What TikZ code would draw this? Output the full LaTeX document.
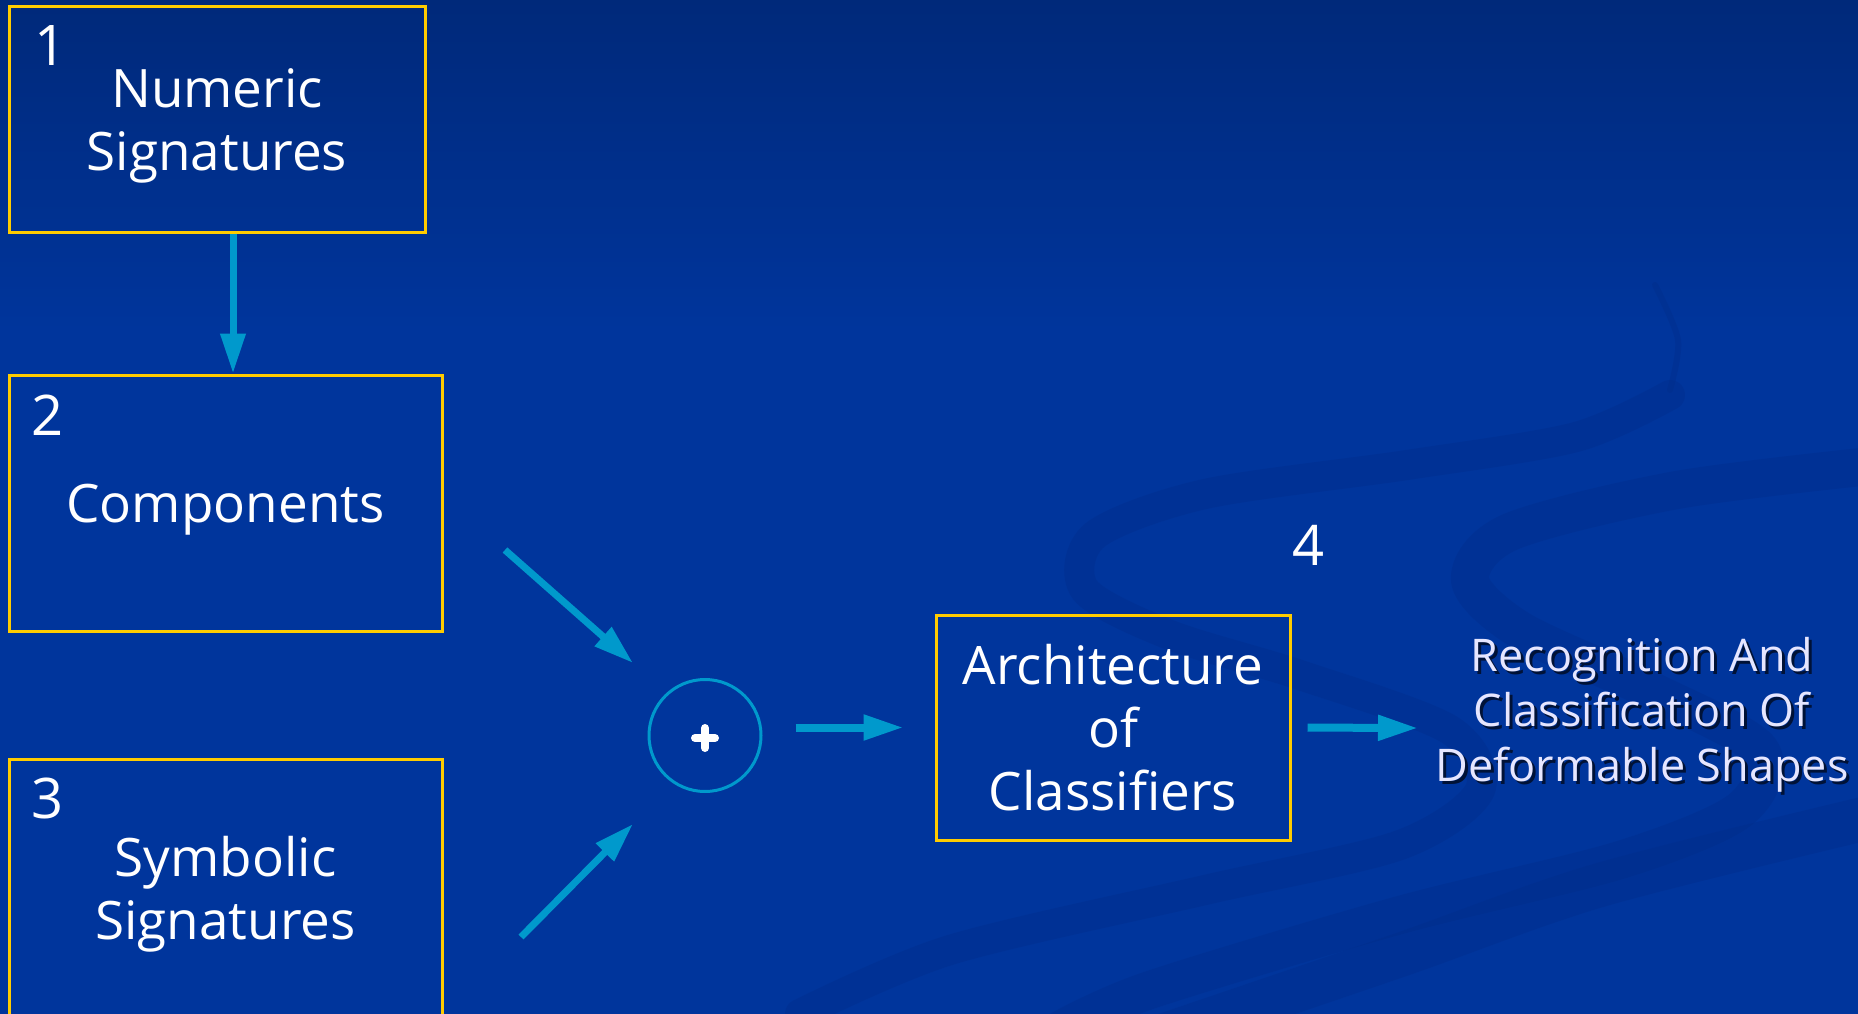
\documentclass[tikz,border=0pt]{standalone}
\usepackage{fontspec}
\setmainfont{Open Sans}
\usetikzlibrary{arrows.meta,positioning}

\definecolor{slidetop}{HTML}{00297A}
\definecolor{slideblue}{HTML}{00359C}
\definecolor{swoosh}{HTML}{002C88}
\definecolor{frame}{HTML}{FFCC00}
\definecolor{link}{HTML}{0099CC}
\definecolor{pale}{HTML}{E6E6FF}

\tikzset{
  stagebox/.style={draw=frame,line width=3pt,inner sep=0pt,text=white,align=center,text depth=0pt,
    font=\fontsize{53}{63}\selectfont},
  numlabel/.style={text=white,inner sep=0pt,anchor=north west,font=\fontsize{56}{56}\selectfont},
  outcome/.style={align=center,inner sep=0pt,text depth=0pt,font=\fontsize{45}{55}\selectfont},
  flow/.style={draw=link,line width=7pt,-{Triangle[length=40pt,width=24pt]}},
  band/.style={draw=swoosh,line width=30pt,opacity=0.35,line cap=round},
}

\begin{document}
\begin{tikzpicture}[x=1pt,y=-1pt]
\useasboundingbox (0,0) rectangle (1858,1014);

% background
\shade[top color=slidetop,bottom color=slideblue] (0,0) rectangle (1858,330);
\fill[slideblue] (0,329) rectangle (1858,1014);
\begin{scope}
  \clip (0,0) rectangle (1858,1014);
  \draw[band,line width=6pt] plot[smooth] coordinates {(1655,285) (1678,340) (1670,390)};
  \draw[band] plot[smooth] coordinates {(1670,395) (1576,437) (1407,465) (1205,494) (1095,535)
    (1085,590) (1170,635) (1300,675) (1450,730) (1480,790) (1400,845) (1205,890) (950,950) (800,1014)};
  \draw[band,line width=38pt] plot[smooth] coordinates {(1880,465) (1677,490) (1510,532) (1470,580) (1520,630)
    (1650,690) (1760,750) (1740,810) (1620,860) (1400,915) (1150,990) (1060,1030)};
  \draw[band,line width=44pt] plot[smooth] coordinates {(1880,815) (1600,885) (1400,955) (1150,1040)};
\end{scope}

% stages
\node[stagebox,minimum width=416pt,minimum height=225pt] (sig1) at (217,119.5) {Numeric\\Signatures};
\node[stagebox,minimum width=433pt,minimum height=256pt] (comp) at (225.5,503) {Components};
\node[stagebox,minimum width=433pt,minimum height=258pt] (sig3) at (225.5,888) {Symbolic\\Signatures};
\node[stagebox,minimum width=354pt,minimum height=225pt] (arch) at (1113,727.5) {Architecture\\of\\Classifiers};

\node[numlabel] (n1) at ([xshift=27pt,yshift=-20pt]sig1.north west) {1};
\node[numlabel] (n2) at ([xshift=24pt,yshift=-21pt]comp.north west) {2};
\node[numlabel] (n3) at ([xshift=24pt,yshift=-20pt]sig3.north west) {3};
\node[numlabel,anchor=center] (n4) at (1308,545) {4};

% sum
\node[circle,draw=link,line width=3pt,minimum size=112pt,inner sep=0pt] (sum) at (705,735.5) {};
\draw[white,line width=8pt,line cap=round] ([xshift=-10pt,yshift=-2.5pt]sum.center) -- ([xshift=10pt,yshift=-2.5pt]sum.center);
\draw[white,line width=8pt,line cap=round] ([yshift=7.5pt]sum.center) -- ([yshift=-12.5pt]sum.center);

% result
\node[outcome,text=black!55!slidetop] (resshadow) at (1645,712) {Recognition And\\Classification Of\\Deformable Shapes};
\node[outcome,text=pale] (res) at (1642,709) {Recognition And\\Classification Of\\Deformable Shapes};

% connectors
\coordinate (c2) at (505,550);
\coordinate (c2end) at (633,663);
\coordinate (c3) at (521,937);
\coordinate (c3end) at (633,824);
\coordinate (resin) at (1418,728);

\draw[flow] ([xshift=16pt]sig1.south) -- ([xshift=16pt]sig1.south |- comp.north);
\draw[flow] (c2) -- (c2end);
\draw[flow] (c3) -- (c3end);
\draw[flow,line width=8pt,shorten <=33pt,shorten >=31pt] (sum.east |- arch.west) -- (arch.west);
\draw[flow,line width=8pt,shorten <=16pt] (arch.east) -- (resin);
\end{tikzpicture}
\end{document}
